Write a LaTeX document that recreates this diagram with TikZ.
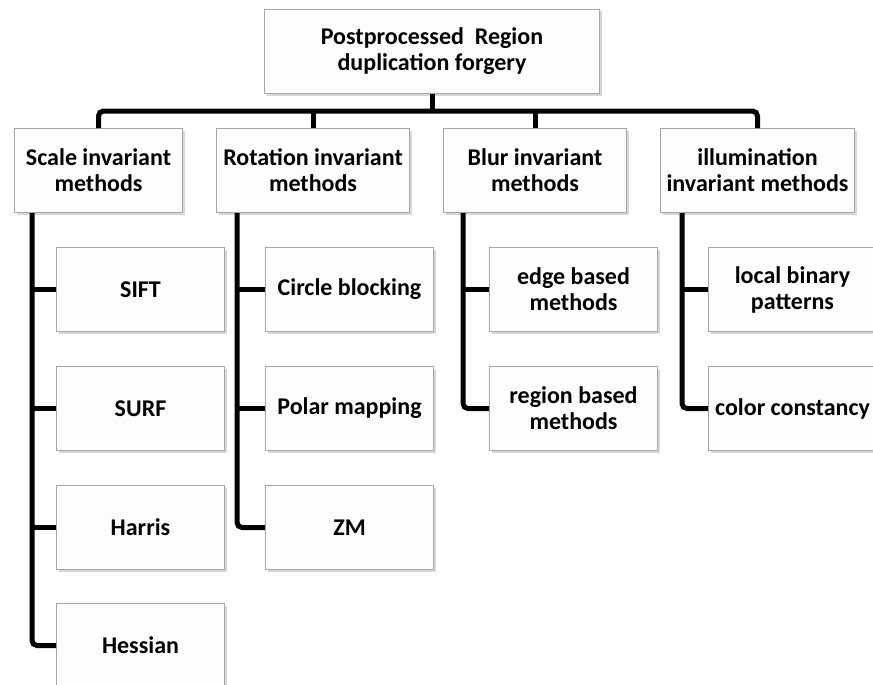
\documentclass[tikz,border=0pt]{standalone}
\usepackage{fontspec}
\setmainfont{Carlito}
\usetikzlibrary{shadows}
\definecolor{boxline}{HTML}{A6A6A6}
\definecolor{boxfill}{HTML}{FDFDFD}
\tikzset{
  box/.style={draw=boxline, line width=1pt, fill=boxfill, anchor=north west,
    inner sep=2pt, align=center, font=\fontsize{24}{26}\selectfont\bfseries,
    drop shadow={shadow xshift=2pt, shadow yshift=-2pt, fill=gray!70, opacity=0.45}},
  conn/.style={line width=5pt, black, rounded corners=5pt},
}
\begin{document}
\begin{tikzpicture}[x=1pt, y=-1pt]
  \useasboundingbox (0,0) rectangle (873,685);
  \clip (0,0) rectangle (873,685);

  % root
  \node[box, minimum width=335pt, minimum height=84pt] (root) at (264,9)
    {Postprocessed~ Region\\duplication forgery};

  % first level
  \node[box, minimum width=168pt, minimum height=84pt] (scale) at (14,128)
    {Scale invariant\\methods};
  \node[box, minimum width=193pt, minimum height=84pt] (rot) at (216,128)
    {Rotation invariant\\methods};
  \node[box, minimum width=183pt, minimum height=84pt] (blur) at (443,128)
    {Blur invariant\\methods};
  \node[box, minimum width=194pt, minimum height=84pt] (illum) at (660,128)
    {illumination\\invariant methods};

  % second level
  \node[box, minimum width=168pt, minimum height=84pt] (sift) at (56,247) {SIFT};
  \node[box, minimum width=168pt, minimum height=84pt] (surf) at (56,366) {SURF};
  \node[box, minimum width=168pt, minimum height=84pt] (harris) at (56,485) {Harris};
  \node[box, minimum width=168pt, minimum height=84pt] (hessian) at (56,603) {Hessian};

  \node[box, minimum width=168pt, minimum height=84pt] (circle) at (265,247) {Circle blocking};
  \node[box, minimum width=168pt, minimum height=84pt] (polar) at (265,366) {Polar mapping};
  \node[box, minimum width=168pt, minimum height=84pt] (zm) at (265,485) {ZM};

  \node[box, minimum width=168pt, minimum height=84pt] (edge) at (489,247) {edge based\\methods};
  \node[box, minimum width=168pt, minimum height=84pt] (region) at (489,366) {region based\\methods};

  \node[box, minimum width=168pt, minimum height=84pt] (lbp) at (708,247) {local binary\\patterns};
  \node[box, minimum width=168pt, minimum height=84pt] (color) at (708,366) {color constancy};

  % bus under the root
  \coordinate (bus) at (433,111);
  \draw[conn] (root.south) -- (root.south |- bus);
  \draw[conn] (scale.north) |- (bus) -| (illum.north);
  \draw[conn] (rot.north) -- (rot.north |- bus);
  \draw[conn] (blur.north) -- (blur.north |- bus);

  % trunks of the second level
  \coordinate (ta) at (32,0);
  \coordinate (tb) at (237,0);
  \coordinate (tc) at (463,0);
  \coordinate (td) at (682,0);

  \draw[conn] (scale.south -| ta) |- (hessian.west);
  \draw[conn] (sift.west) -- (sift.west -| ta);
  \draw[conn] (surf.west) -- (surf.west -| ta);
  \draw[conn] (harris.west) -- (harris.west -| ta);

  \draw[conn] (rot.south -| tb) |- (zm.west);
  \draw[conn] (circle.west) -- (circle.west -| tb);
  \draw[conn] (polar.west) -- (polar.west -| tb);

  \draw[conn] (blur.south -| tc) |- (region.west);
  \draw[conn] (edge.west) -- (edge.west -| tc);

  \draw[conn] (illum.south -| td) |- (color.west);
  \draw[conn] (lbp.west) -- (lbp.west -| td);
\end{tikzpicture}
\end{document}
